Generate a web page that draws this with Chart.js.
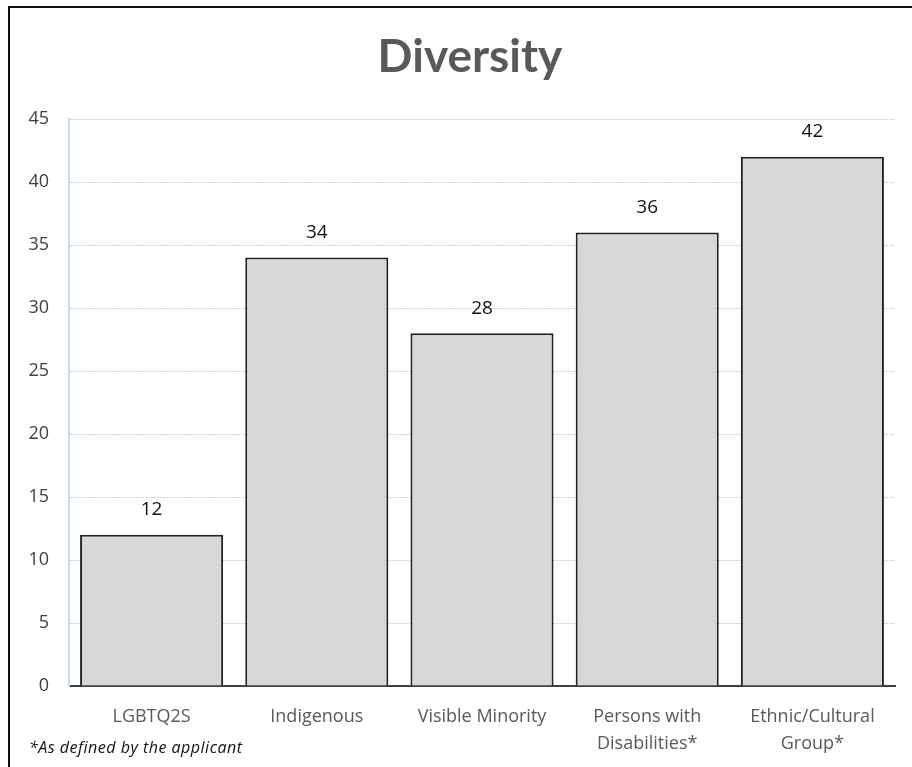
<!DOCTYPE html>
<html>
<head>
<meta charset="utf-8">
<script src="https://cdn.jsdelivr.net/npm/chart.js@4/dist/chart.umd.min.js"></script>
<style>
  html, body { margin: 0; padding: 0; background: #fff; }
  #wrap { position: relative; width: 912px; height: 767px; overflow: hidden; }
  #frame {
    position: absolute; left: 8px; top: 6px; width: 940px; height: 800px;
    border: 2px solid #111; box-sizing: border-box;
  }
  #chart { position: absolute; left: 0; top: 0; }
  #note {
    position: absolute; left: 29px; top: 736px;
    font: italic 16px "Open Sans", sans-serif; letter-spacing: 0.5px; color: #111;
  }
</style>
</head>
<body>
<div id="wrap">
  <div id="frame"></div>
  <canvas id="chart" width="912" height="767"></canvas>
  <div id="note">*As defined by the applicant</div>
</div>
<script>
// chart values
const categories = ['LGBTQ2S', 'Indigenous', 'Visible Minority', ['Persons with', 'Disabilities*'], ['Ethnic/Cultural', 'Group*']];
const counts = [12, 34, 28, 36, 42];
const yTicks = [0, 5, 10, 15, 20, 25, 30, 35, 40, 45];

// fine dotted grey fill like the original
function makePattern() {
    const c = document.createElement('canvas');
    c.width = 4;
    c.height = 4;
    const g = c.getContext('2d');
    g.fillStyle = '#dadada';
    g.fillRect(0, 0, 4, 4);
    g.fillStyle = '#c9c9c9';
    g.fillRect(0, 0, 1, 1);
    g.fillRect(2, 2, 1, 1);
    return g.createPattern(c, 'repeat');
}

// value labels above each bar
const valueLabels = {
    id: 'valueLabels',
    afterDatasetsDraw(chart) {
        const ctx = chart.ctx;
        const meta = chart.getDatasetMeta(0);
        ctx.save();
        ctx.font = '19px "Open Sans"';
        ctx.fillStyle = '#111';
        ctx.textAlign = 'center';
        ctx.textBaseline = 'middle';
        meta.data.forEach((bar, i) => {
            ctx.fillText(counts[i], bar.x, bar.y - 25);
        });
        ctx.restore();
    }
};

// title in the original is centred a bit right of the canvas middle
const titleShift = {
    id: 'titleShift',
    afterLayout(chart) {
        chart.titleBlock.left = 45;
    }
};

const ctx = document.getElementById('chart').getContext('2d');

new Chart(ctx, {
    type: 'bar',
    data: {
        labels: categories,
        datasets: [{
            data: counts,
            backgroundColor: makePattern(),
            borderColor: '#222',
            borderWidth: 2,
            borderSkipped: 'bottom',
            categoryPercentage: 1,
            barPercentage: 0.866
        }]
    },
    plugins: [valueLabels, titleShift],
    options: {
        responsive: false,
        animation: false,
        layout: {
            padding: { left: 20, right: 17, top: 0, bottom: 0 }
        },
        plugins: {
            legend: { display: false },
            tooltip: { enabled: false },
            title: {
                display: true,
                text: 'Diversity',
                color: '#595959',
                font: { family: 'Lato', size: 46, weight: 'bold', lineHeight: 1 },
                padding: { top: 34, bottom: 39 }
            }
        },
        scales: {
            x: {
                afterFit(scale) { scale.height = 81; },
                grid: { display: false, drawTicks: false },
                border: { display: true, color: '#404040', width: 2 },
                ticks: {
                    color: '#595959',
                    padding: 17,
                    maxRotation: 0,
                    autoSkip: false,
                    font: { family: 'Open Sans', size: 18, lineHeight: 1.5 }
                }
            },
            y: {
                min: 0,
                max: 45,
                afterFit(scale) { scale.width = 49; },
                afterBuildTicks(scale) { scale.ticks = yTicks.map(v => ({ value: v })); },
                grid: {
                    color: '#d2d2d2',
                    drawTicks: false
                },
                border: { display: true, color: '#c6dbf0', width: 2, dash: [2, 1] },
                ticks: {
                    color: '#404040',
                    padding: 20,
                    font: { family: 'Open Sans', size: 18 }
                }
            }
        }
    }
});
</script>
</body>
</html>
